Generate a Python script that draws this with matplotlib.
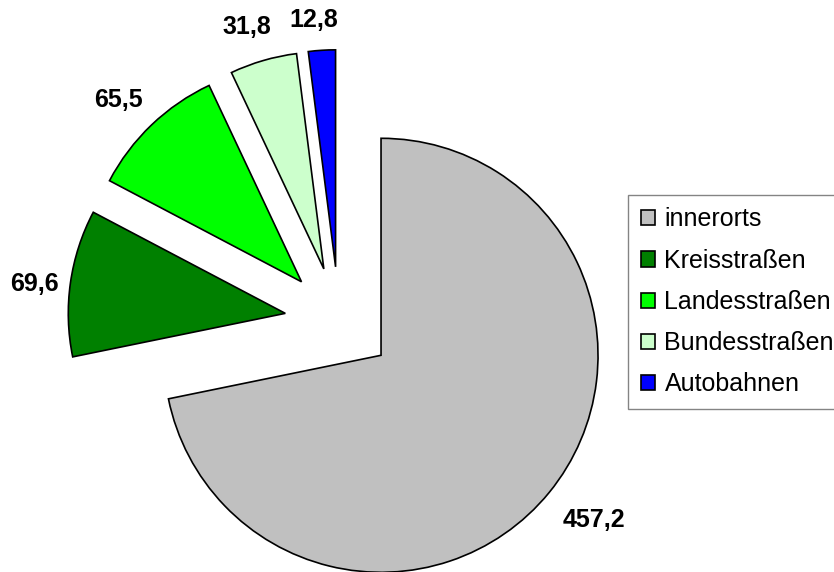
import numpy as np
import matplotlib
matplotlib.use("Agg")
import matplotlib.pyplot as plt

# Unfallzahlen nach Straßenart
categories = ["innerorts", "Kreisstraßen", "Landesstraßen", "Bundesstraßen", "Autobahnen"]
values = [457.2, 69.6, 65.5, 31.8, 12.8]
value_labels = ["457,2", "69,6", "65,5", "31,8", "12,8"]
colors = ["#C0C0C0", "#008000", "#00FF00", "#CCFFCC", "#0000FF"]

plt.rcParams["font.family"] = ["Liberation Sans", "DejaVu Sans"]

W, H = 834, 572
R_PX = 217.0            # pie radius in pixels
CX, CY = 339.0, 321.0   # pie centre in pixels (from top-left)

fig = plt.figure(figsize=(W / 100, H / 100), dpi=100)
ax = fig.add_axes([0, 0, 1, 1])

wedges, _ = ax.pie(
    values,
    colors=colors,
    explode=[0.25] * len(values),
    startangle=90,
    counterclock=False,
    radius=1.0,
    wedgeprops=dict(edgecolor="black", linewidth=1.2),
)

# data labels outside each wedge (distance from wedge centre, in radii)
label_dist = [1.24, 1.165, 1.19, 1.17, 1.14]
for w, txt, d in zip(wedges, value_labels, label_dist):
    mid = np.deg2rad((w.theta1 + w.theta2) / 2 + 1.5)
    cx, cy = w.center
    ax.text(cx + d * np.cos(mid), cy + d * np.sin(mid), txt,
            ha="center", va="center", fontsize=18, fontweight="bold")

ax.set_xlim(-CX / R_PX, (W - CX) / R_PX)
ax.set_ylim(-(H - CY) / R_PX, CY / R_PX)
ax.set_aspect("auto")
ax.axis("off")

leg = ax.legend(
    wedges, categories,
    loc="upper left",
    bbox_to_anchor=(628 / W, 1 - 195 / H),
    bbox_transform=fig.transFigure,
    borderaxespad=0,
    fontsize=18,
    frameon=True,
    fancybox=False,
    handlelength=0.56,
    handleheight=0.56,
    handletextpad=0.4,
    labelspacing=0.69,
    borderpad=0.5,
)
leg.get_frame().set_edgecolor("#666666")
leg.get_frame().set_linewidth(1.0)

fig.savefig("out.png", dpi=100)
